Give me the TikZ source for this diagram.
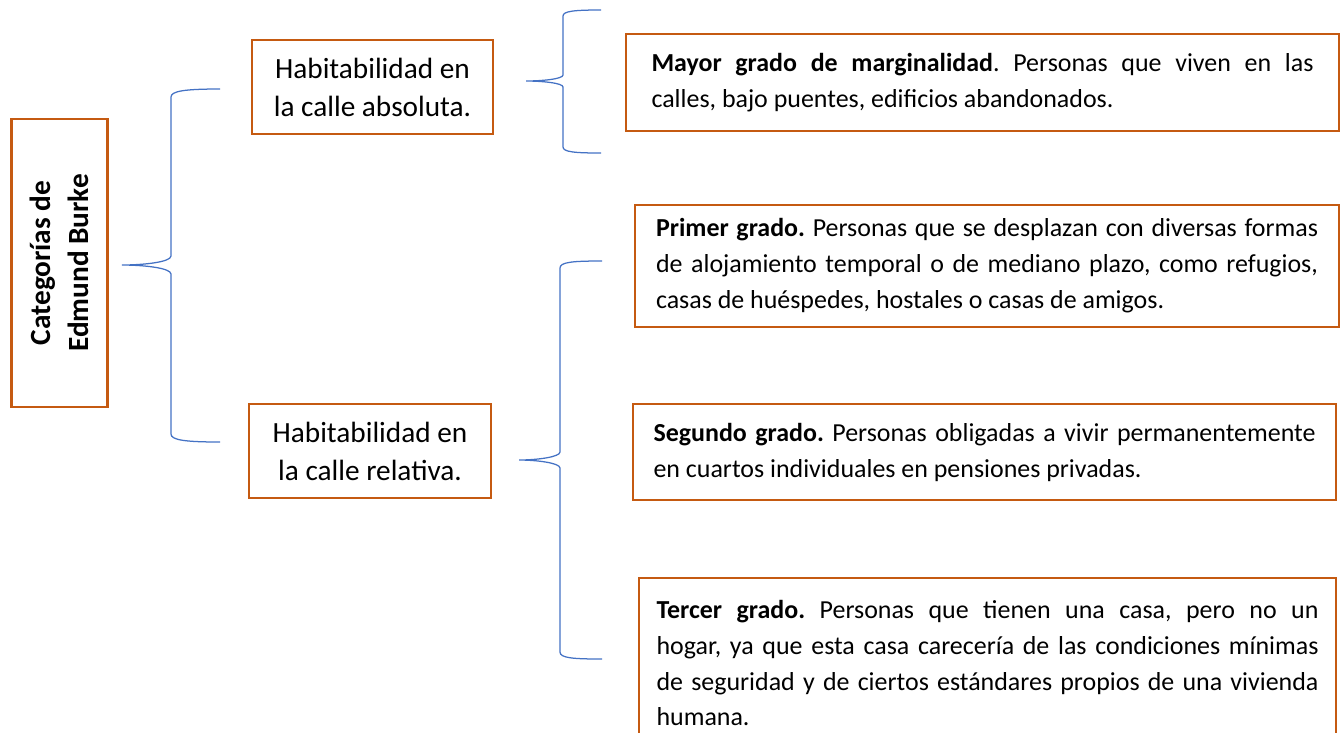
\documentclass[tikz,border=0pt]{standalone}
\usepackage{fontspec}
\setmainfont{Carlito}
\usetikzlibrary{calc}
\usepackage{xcolor}
\definecolor{boxorange}{HTML}{C55A11}
\definecolor{braceblue}{HTML}{4472C4}
\hyphenpenalty=10000
\frenchspacing

\begin{document}
\begin{tikzpicture}[
  x=0.478pt, y=-0.478pt,
  catbox/.style={draw=boxorange, line width=1pt, rotate=90,
              minimum width=137.7pt, minimum height=45.9pt,
              font=\fontsize{14}{18.2}\selectfont\bfseries, align=center},
  habbox/.style={draw=boxorange, line width=1pt,
              minimum width=115.5pt, minimum height=44.9pt,
              font=\fontsize{14}{18.2}\selectfont, align=center},
  descbox/.style={draw=boxorange, line width=1pt, text width=316.4pt,
              font=\fontsize{12.4}{17.2}\selectfont, align=justify},
  curlyline/.style={draw=braceblue, line width=0.6pt}
]
  \useasboundingbox (0,0) rectangle (1340,732);
  \clip (0,0) rectangle (1340,732);

  % Left column
  \node[catbox] (cat) at (59.5,263) {Categorías de\\Edmund Burke};

  % Middle column
  \node[habbox] (abs) at (372.5,87)  {Habitabilidad en\\la calle absoluta.};
  \node[habbox] (rel) at (370,451)   {Habitabilidad en\\la calle relativa.};

  % Right column
  \node[descbox, inner xsep=12.2pt, minimum height=46.4pt] (mayor) at (982.5,82.5)
    {\textbf{Mayor grado de marginalidad}. Personas que viven en las\linebreak
     calles, bajo puentes, edificios abandonados.};
  \node[descbox, inner xsep=10pt, minimum height=58.3pt] (primer) at (987,266)
    {\textbf{Primer grado.} Personas que se desplazan con diversas formas\linebreak
     de alojamiento temporal o de mediano plazo, como refugios,\linebreak
     casas de huéspedes, hostales o casas de amigos.};
  \node[descbox, inner xsep=9.8pt, minimum height=45.9pt] (segundo) at (984.5,452)
    {\textbf{Segundo grado.} Personas obligadas a vivir permanentemente\linebreak
     en cuartos individuales en pensiones privadas.};
  \node[descbox, inner xsep=8.4pt, minimum height=81.3pt] (tercer) at (987.5,663)
    {\textbf{Tercer grado.} Personas que tienen una casa, pero no un\linebreak
     hogar, ya que esta casa carecería de las condiciones mínimas\linebreak
     de seguridad y de ciertos estándares propios de una vivienda\linebreak
     humana.};

  % Brace ends
  \coordinate (tip1) at (122,265);
  \coordinate (top1) at (220,89);
  \coordinate (bot1) at (220,442);
  \coordinate (tip2) at (526,81);
  \coordinate (top2) at (601,10);
  \coordinate (bot2) at (601,153);
  \coordinate (tip3) at (519,460);
  \coordinate (top3) at (602,261);
  \coordinate (bot3) at (602,659);

  % Brace: categories to both kinds
  \draw[curlyline] (top1) .. controls +(-35,0) and +(0,-6) .. ($(top1)+(-49,8)$)
    -- ($(tip1)+(49,-9)$) .. controls +(0,6) and +(22,0) .. (tip1)
    .. controls +(22,0) and +(0,-6) .. ($(tip1)+(49,9)$)
    -- ($(bot1)+(-49,-8)$) .. controls +(0,6) and +(-35,0) .. (bot1);

  % Brace: absolute
  \draw[curlyline] (top2) .. controls +(-26,0) and +(0,-5) .. ($(top2)+(-38,6)$)
    -- ($(tip2)+(37,-6)$) .. controls +(0,4) and +(16,0) .. (tip2)
    .. controls +(16,0) and +(0,-4) .. ($(tip2)+(37,6)$)
    -- ($(bot2)+(-38,-6)$) .. controls +(0,5) and +(-26,0) .. (bot2);

  % Brace: relative
  \draw[curlyline] (top3) .. controls +(-29,0) and +(0,-6) .. ($(top3)+(-42,7)$)
    -- ($(tip3)+(41,-8)$) .. controls +(0,5) and +(18,0) .. (tip3)
    .. controls +(18,0) and +(0,-5) .. ($(tip3)+(41,8)$)
    -- ($(bot3)+(-42,-7)$) .. controls +(0,6) and +(-29,0) .. (bot3);
\end{tikzpicture}
\end{document}
